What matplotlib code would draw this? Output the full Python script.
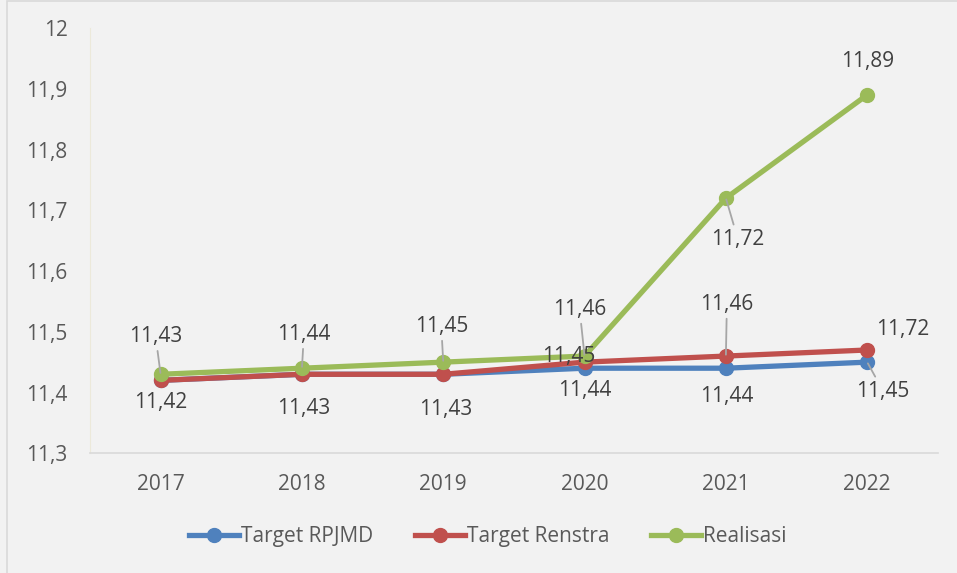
import matplotlib.pyplot as plt
from matplotlib.patches import Rectangle
from matplotlib.ticker import FuncFormatter

years = ["2017", "2018", "2019", "2020", "2021", "2022"]
rpjmd = [11.42, 11.43, 11.43, 11.44, 11.44, 11.45]
renstra = [11.42, 11.43, 11.43, 11.45, 11.46, 11.47]
realisasi = [11.43, 11.44, 11.45, 11.46, 11.72, 11.89]

# labels as shown on the chart (some are hidden / odd in the original)
rpjmd_labels = ["11,42", "11,43", "11,43", "11,44", "11,44", "11,45"]
renstra_labels = [None, None, None, "11,45", "11,46", "11,72"]
realisasi_labels = ["11,43", "11,44", "11,45", "11,46", "11,72", "11,89"]

blue = "#4f81bd"
red = "#c0504d"
green = "#9bbb59"
txt = "#595959"
bg = "#f2f2f2"

plt.rcParams["font.family"] = ["Open Sans", "DejaVu Sans"]
FS = 15

fig = plt.figure(figsize=(9.57, 5.73), dpi=100, facecolor=bg)
ax = fig.add_axes([0.094, 0.209, 0.886, 0.742])
ax.set_facecolor(bg)
fig.patches.append(Rectangle((7 / 957, -0.01), 1.0, 1.008, transform=fig.transFigure,
                             fill=False, edgecolor="#d9d9d9", linewidth=1.2))

x = list(range(len(years)))
ax.plot(x, rpjmd, color=blue, lw=3.8, marker="o", ms=10, label="Target RPJMD", zorder=3)
ax.plot(x, renstra, color=red, lw=3.8, marker="o", ms=10, label="Target Renstra", zorder=4)
ax.plot(x, realisasi, color=green, lw=3.8, marker="o", ms=10, label="Realisasi", zorder=5)

ax.set_xlim(-0.5, len(years) - 0.5)
ax.set_ylim(11.3, 12.0)
ax.set_yticks([11.3 + 0.1 * i for i in range(8)])
ax.yaxis.set_major_formatter(FuncFormatter(
    lambda v, p: ("%g" % round(v, 2)).replace(".", ",")))
ax.set_xticks(x)
ax.set_xticklabels(years)
ax.tick_params(axis="both", length=0, labelsize=FS, colors=txt)
ax.tick_params(axis="x", pad=15)
ax.tick_params(axis="y", pad=16)

for s in ["top", "right"]:
    ax.spines[s].set_visible(False)
ax.spines["left"].set_color("#ece9da")
ax.spines["bottom"].set_color("#d9d9d9")
ax.spines["bottom"].set_linewidth(1.2)

# label offsets in pixels (dx, dy up), and whether a leader line is drawn
off_green = [(-5, 38, True), (2, 34, True), (-2, 36, True), (-5, 47, True), (12, -41, True), (0, 33, False)]
off_blue = [(0, -22, False), (2, -34, False), (2, -35, False), (0, -22, False), (1, -28, False), (16, -29, True)]
off_red = [None, None, None, (-16, 6, False), (1, 52, True), (35, 20, False)]

def put_labels(vals, labels, offs):
    for i, (v, lab) in enumerate(zip(vals, labels)):
        if lab is None or offs[i] is None:
            continue
        dx, dy, lead = offs[i]
        kw = {}
        if lead:
            kw["arrowprops"] = dict(arrowstyle="-", color="#a6a6a6", lw=1.3,
                                    shrinkA=1, shrinkB=1)
        ax.annotate(lab, (i, v), xytext=(dx * 0.72, dy * 0.72), textcoords="offset points",
                    ha="center", va="center", fontsize=FS, color="#404040", zorder=6, **kw)

put_labels(realisasi, realisasi_labels, off_green)
put_labels(rpjmd, rpjmd_labels, off_blue)
put_labels(renstra, renstra_labels, off_red)

leg = fig.legend(loc="center", bbox_to_anchor=(0.51, 0.063), ncol=3, frameon=False,
                 fontsize=FS, handlelength=2.4, handletextpad=0.1, columnspacing=2.0,
                 labelcolor=txt)

fig.savefig("out.png", dpi=100, facecolor=bg)
